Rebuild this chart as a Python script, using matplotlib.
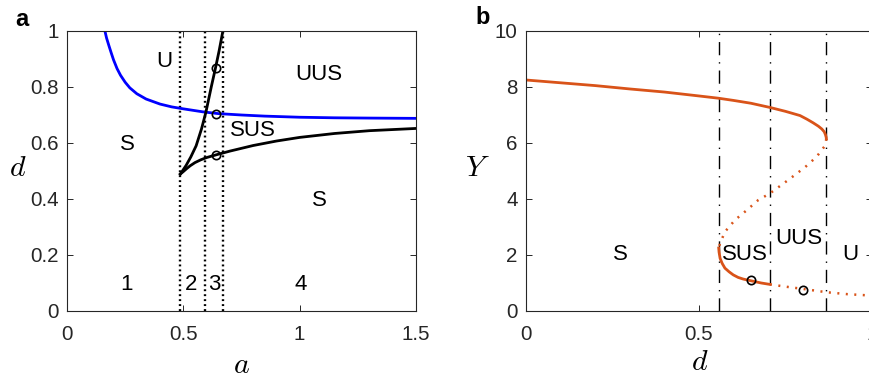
import matplotlib
matplotlib.use('Agg')
import matplotlib.pyplot as plt

plt.rcParams['font.family'] = ['Liberation Sans', 'DejaVu Sans']
plt.rcParams['mathtext.fontset'] = 'cm'

# ---- panel a: (a, d) phase diagram ----
blue_a = [0.163, 0.17, 0.18, 0.19, 0.20, 0.215, 0.23, 0.25, 0.27, 0.30, 0.34, 0.40, 0.45, 0.50,
          0.586, 0.65, 0.75, 0.85, 1.0, 1.15, 1.3, 1.5]
blue_d = [1.0, 0.975, 0.948, 0.922, 0.897, 0.866, 0.842, 0.817, 0.797, 0.776, 0.757, 0.739, 0.729, 0.722,
          0.711, 0.705, 0.700, 0.696, 0.692, 0.690, 0.689, 0.688]

upper_a = [0.487, 0.512, 0.532, 0.555, 0.578, 0.597, 0.620, 0.638, 0.654, 0.670]
upper_d = [0.489, 0.520, 0.550, 0.590, 0.650, 0.710, 0.800, 0.867, 0.930, 1.0]

lower_a = [0.487, 0.50, 0.515, 0.53, 0.55, 0.575, 0.60, 0.642, 0.70, 0.80, 0.90, 1.0, 1.15, 1.3, 1.5]
lower_d = [0.489, 0.498, 0.509, 0.519, 0.530, 0.540, 0.548, 0.558, 0.571, 0.591, 0.607, 0.620, 0.634, 0.644, 0.652]

vlines_a = [0.487, 0.595, 0.670]
circ_a = [0.641, 0.641, 0.641]
circ_d = [0.867, 0.705, 0.557]

labels_a = [('U', 0.418, 0.89), ('UUS', 1.082, 0.843), ('SUS', 0.80, 0.643),
            ('S', 0.258, 0.593), ('S', 1.086, 0.396),
            ('1', 0.254, 0.093), ('2', 0.533, 0.093), ('3', 0.635, 0.093), ('4', 1.003, 0.093)]

# ---- panel b: Y vs d bifurcation ----
top_d = [0.0, 0.1, 0.2, 0.3, 0.4, 0.5, 0.556, 0.6, 0.65, 0.705, 0.75, 0.792, 0.812, 0.83, 0.845,
         0.855, 0.862, 0.8654, 0.8677, 0.868]
top_Y = [8.25, 8.15, 8.05, 7.93, 7.82, 7.68, 7.60, 7.52, 7.42, 7.27, 7.13, 6.98, 6.85, 6.72, 6.60,
         6.50, 6.40, 6.30, 6.20, 6.15]

mid_d = [0.868, 0.864, 0.840, 0.806, 0.758, 0.705, 0.671, 0.638, 0.604, 0.575, 0.561, 0.557]
mid_Y = [6.15, 5.90, 5.51, 5.13, 4.68, 4.20, 3.96, 3.60, 3.25, 2.83, 2.42, 2.25]

low_d = [0.557, 0.558, 0.561, 0.567, 0.575, 0.587, 0.599, 0.613, 0.628, 0.650, 0.680, 0.705]
low_Y = [2.25, 2.10, 1.88, 1.70, 1.53, 1.40, 1.29, 1.20, 1.14, 1.08, 1.00, 0.95]

tail_d = [0.705, 0.75, 0.80, 0.869, 0.93, 1.0]
tail_Y = [0.95, 0.87, 0.79, 0.67, 0.60, 0.55]

vlines_b = [0.557, 0.705, 0.868]
circ_bd = [0.650, 0.801]
circ_bY = [1.11, 0.75]

labels_b = [('S', 0.273, 2.0), ('SUS', 0.633, 2.0), ('UUS', 0.789, 2.6), ('U', 0.938, 2.0)]

orange = '#D95319'
gray = '#262626'

fig = plt.figure(figsize=(8.69, 3.79), dpi=100)
axa = fig.add_axes([67/869, 68/379, 349/869, 280/379])
axb = fig.add_axes([526/869, 68/379, 346/869, 280/379])

for ax in (axa, axb):
    ax.tick_params(direction='in', top=True, right=True, length=4, width=0.7,
                   colors=gray, labelsize=14.8)
    ax.tick_params(axis='x', pad=10)
    ax.tick_params(axis='y', pad=6)
    for s in ax.spines.values():
        s.set_color(gray)
        s.set_linewidth(0.8)

# panel a
for x in vlines_a:
    axa.plot([x, x], [0, 1], color='k', lw=1.7, linestyle=(0, (0.8, 1.3)))
axa.plot(blue_a, blue_d, color='#0000FF', lw=2)
axa.plot(upper_a, upper_d, color='k', lw=2)
axa.plot(lower_a, lower_d, color='k', lw=2)
axa.plot(circ_a, circ_d, 'o', mfc='none', mec='k', ms=6, mew=1.2)
for t, x, y in labels_a:
    axa.text(x, y, t, ha='center', va='center', fontsize=16)
axa.set_xlim(0, 1.5)
axa.set_ylim(0, 1)
axa.set_xticks([0, 0.5, 1, 1.5])
axa.set_xticklabels(['0', '0.5', '1', '1.5'])
axa.set_yticks([0, 0.2, 0.4, 0.6, 0.8, 1])
axa.set_yticklabels(['0', '0.2', '0.4', '0.6', '0.8', '1'])
axa.set_xlabel(r'$a$', fontsize=21.5, va='center')
axa.xaxis.set_label_coords(0.5, (311 - 365) / 280)
axa.set_ylabel(r'$d$', fontsize=21.5, rotation=0, ha='center', va='center')
axa.yaxis.set_label_coords((18 - 67) / 349, (311 - 168) / 280)
fig.text(22/869, 1 - 20/379, 'a', fontsize=17, fontweight='bold', ha='center', va='center')

# panel b
for x in vlines_b:
    axb.plot([x, x], [0, 10], color='k', lw=1.0, linestyle=(0, (9.5, 5, 1, 5)))
axb.plot(top_d, top_Y, color=orange, lw=2)
axb.plot(mid_d, mid_Y, color=orange, lw=1.8, linestyle=(0, (0.8, 2.6)))
axb.plot(low_d, low_Y, color=orange, lw=2)
axb.plot(tail_d, tail_Y, color=orange, lw=1.8, linestyle=(0, (0.8, 2.6)))
axb.plot(circ_bd, circ_bY, 'o', mfc='none', mec='k', ms=6, mew=1.2)
for t, x, y in labels_b:
    axb.text(x, y, t, ha='center', va='center', fontsize=16)
axb.set_xlim(0, 1)
axb.set_ylim(0, 10)
axb.set_xticks([0, 0.5, 1])
axb.set_xticklabels(['0', '0.5', '1'])
axb.set_yticks([0, 2, 4, 6, 8, 10])
axb.set_xlabel(r'$d$', fontsize=21.5, va='center')
axb.xaxis.set_label_coords(0.503, (311 - 362) / 280)
axb.set_ylabel(r'$Y$', fontsize=21.5, rotation=0, ha='center', va='center')
axb.yaxis.set_label_coords((477 - 526) / 346, (311 - 168) / 280)
fig.text(483/869, 1 - 18/379, 'b', fontsize=17, fontweight='bold', ha='center', va='center')

fig.savefig('out.png', dpi=100, facecolor='w')
